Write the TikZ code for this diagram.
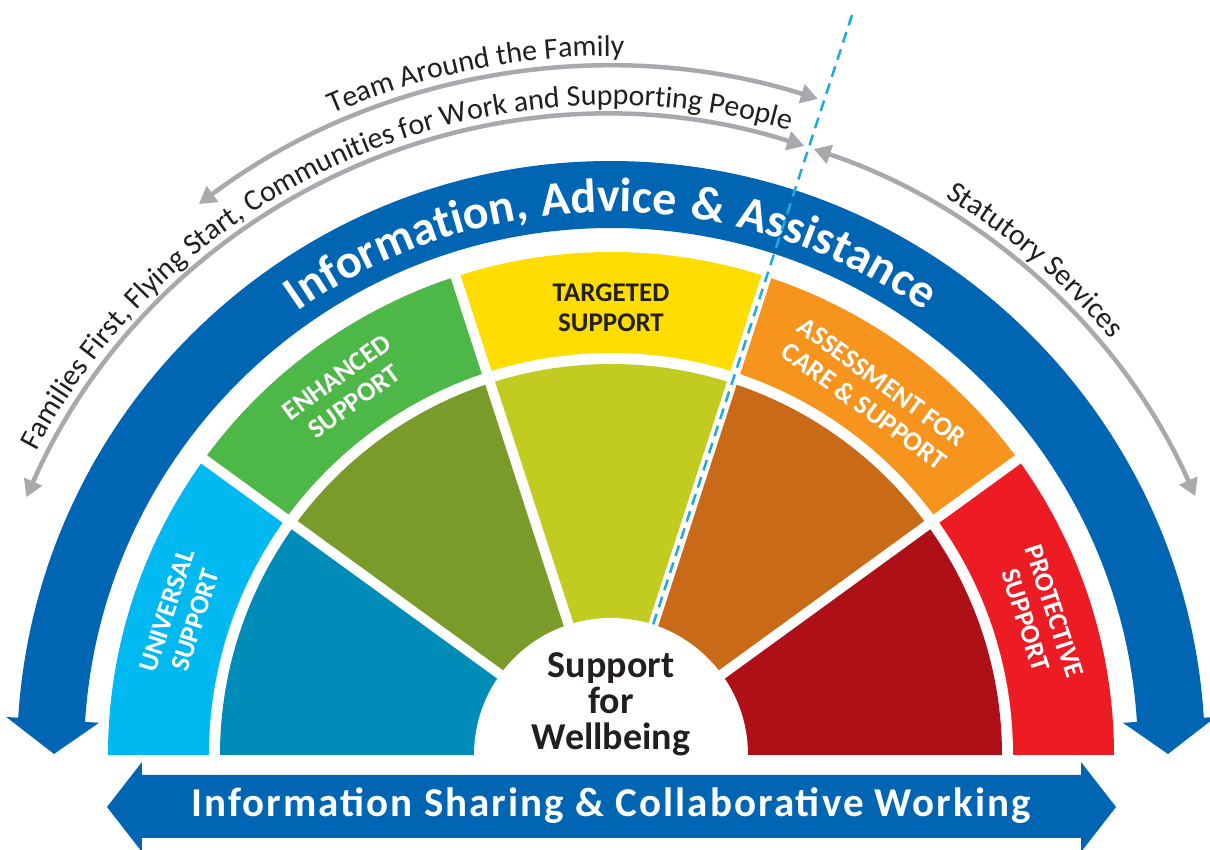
\documentclass[tikz,border=0pt]{standalone}
\usepackage{fontspec}
\setmainfont{Carlito}
\newfontfamily\trackfont[LetterSpace=5]{Carlito}
\usetikzlibrary{arrows.meta,decorations.text}
\definecolor{iaablue}{HTML}{0066B3}
\definecolor{cyanseg}{HTML}{00B9F1}
\definecolor{tealseg}{HTML}{008CB8}
\definecolor{greenseg}{HTML}{4DB848}
\definecolor{oliveseg}{HTML}{7A9A2A}
\definecolor{yellowseg}{HTML}{FFDD00}
\definecolor{limeseg}{HTML}{C2CB20}
\definecolor{orangeseg}{HTML}{F7941E}
\definecolor{brownseg}{HTML}{C96A18}
\definecolor{redseg}{HTML}{ED1C24}
\definecolor{darkredseg}{HTML}{AF0F16}
\definecolor{arcgray}{HTML}{A7A9AC}
\definecolor{dashblue}{HTML}{1EA9E1}
\definecolor{inkblack}{HTML}{231F20}
\newcommand\labfont{\bfseries\fontsize{27}{30}\selectfont}
\newcommand\grayfont{\fontsize{30}{30}\selectfont}
\newcommand\bandfont{\trackfont\bfseries\fontsize{48}{48}\selectfont}
\tikzset{
  seglabel/.style={font=\labfont, text=white, align=center, inner sep=0pt},
  grayarc/.style={draw=arcgray, line width=4.5pt,
    {Triangle[length=17pt,width=19pt]}-{Triangle[length=17pt,width=19pt]}},
}
\begin{document}
\begin{tikzpicture}[x=1pt,y=1pt]
\useasboundingbox (-611,-95) rectangle (599,755);
\fill[white] (-611,-95) rectangle (599,755);
% outer ring
\fill[cyanseg] (0,0) -- (180:503) arc[start angle=180,end angle=144,radius=503] -- cycle;
\fill[greenseg] (0,0) -- (144:503) arc[start angle=144,end angle=108,radius=503] -- cycle;
\fill[yellowseg] (0,0) -- (108:503) arc[start angle=108,end angle=72,radius=503] -- cycle;
\fill[orangeseg] (0,0) -- (72:503) arc[start angle=72,end angle=36,radius=503] -- cycle;
\fill[redseg] (0,0) -- (36:503) arc[start angle=36,end angle=0,radius=503] -- cycle;
\fill[white] (-402,0) arc[start angle=180,end angle=0,radius=402] -- cycle;
% inner ring
\fill[tealseg] (0,0) -- (180:391) arc[start angle=180,end angle=144,radius=391] -- cycle;
\fill[oliveseg] (0,0) -- (144:391) arc[start angle=144,end angle=108,radius=391] -- cycle;
\fill[limeseg] (0,0) -- (108:391) arc[start angle=108,end angle=72,radius=391] -- cycle;
\fill[brownseg] (0,0) -- (72:391) arc[start angle=72,end angle=36,radius=391] -- cycle;
\fill[darkredseg] (0,0) -- (36:391) arc[start angle=36,end angle=0,radius=391] -- cycle;
\fill[white] (-137,0) arc[start angle=180,end angle=0,radius=137] -- cycle;
\foreach \a in {36,72,108,144} \draw[white,line width=10pt] (\a:137) -- (\a:512);
% blue band with arrowheads
\fill[iaablue] (176.4:594) arc[start angle=176.4,end angle=3.6,radius=594]
  -- (3.6:606) -- (557,1) -- (3.6:513) -- (3.6:527)
  arc[start angle=3.6,end angle=176.4,radius=527]
  -- (176.4:513) -- (-557,1) -- (176.4:606) -- cycle;
\path[decorate,decoration={text along path, text align=center, text color=white,
  text={|\bandfont|Information, Advice {\&} Assistance}}]
  (155:543) arc[start angle=155,end angle=25,radius=543];
% bottom double arrow
\fill[iaablue] (-504,-52) -- (-469,-7) -- (-469,-20) -- (470,-20) -- (470,-7)
  -- (505,-52) -- (470,-97) -- (470,-83) -- (-469,-83) -- (-469,-97) -- cycle;
\node[font=\trackfont\bfseries\fontsize{41}{41}\selectfont, text=white, anchor=base, inner sep=0pt]
  (isc) at (0,-62) {Information Sharing \& Collaborative Working};
% gray arcs
\draw[grayarc] (126.8:688) arc[start angle=126.8,end angle=72.5,radius=688];
\draw[grayarc] (156.2:639) arc[start angle=156.2,end angle=72.4,radius=639];
\draw[grayarc] (71.5:639) arc[start angle=71.5,end angle=23.9,radius=639];
\path[decorate,decoration={text along path, text align=center, text color=inkblack,
  text={|\grayfont|Team Around the Family}}]
  (126.2:699) arc[start angle=126.2,end angle=76.2,radius=699];
\path[decorate,decoration={text along path, text align=center, text color=inkblack,
  text={|\grayfont|Families First, Flying Start, Communities for Work and Supporting People}}]
  (170:650) arc[start angle=170,end angle=56.2,radius=650];
\path[decorate,decoration={text along path, text align=center, text color=inkblack,
  text={|\grayfont|Statutory Services}}]
  (75:650) arc[start angle=75,end angle=23.8,radius=650];
% segment labels
\node[seglabel, rotate=72] (univ) at (162:452) {UNIVERSAL\\SUPPORT};
\node[seglabel, rotate=36] (enh) at (126:452) {ENHANCED\\SUPPORT};
\node[seglabel, text=inkblack] (targ) at (90:447) {TARGETED\\SUPPORT};
\node[seglabel, rotate=-36] (assess) at (54:446) {ASSESSMENT FOR\\CARE \& SUPPORT};
\node[seglabel, rotate=-72] (prot) at (18:451) {PROTECTIVE\\SUPPORT};
\node[font=\bfseries\fontsize{38}{36}\selectfont, text=inkblack, align=center, inner sep=0pt]
  (sfw) at (0,51) {Support\\for\\Wellbeing};
% dashed divider
\coordinate (dtop) at (241,740);
\coordinate (dbot) at (42,130);
\draw[dashblue, line width=2.5pt, dash pattern=on 11pt off 7pt] (dtop) -- (dbot);
\end{tikzpicture}
\end{document}
